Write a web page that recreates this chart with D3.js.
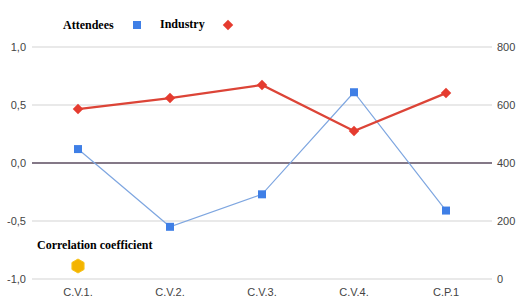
<!DOCTYPE html>
<html>
<head>
<meta charset="utf-8">
<script src="https://cdn.jsdelivr.net/npm/d3@7"></script>
<style>
  body { margin: 0; background: #fff; }
  svg { display: block; }
</style>
</head>
<body>
<svg id="chart"></svg>
<script>
const categories = ['C.V.1.', 'C.V.2.', 'C.V.3.', 'C.V.4.', 'C.P.1'];
const attendees = [0.12, -0.55, -0.27, 0.61, -0.41];   // left axis
const industry = [586, 624, 669, 510, 641];              // right axis
const leftTicks = [-1, -0.5, 0, 0.5, 1];
const rightTicks = [0, 200, 400, 600, 800];

const width = 528, height = 303;
const padding = { top: 47, bottom: 24, left: 32, right: 36 };

let svg = d3.select('#chart')
  .attr('width', width)
  .attr('height', height);

let x = d3.scaleBand()
  .domain(categories)
  .range([padding.left, width - padding.right]);

let yL = d3.scaleLinear()
  .domain([-1, 1])
  .range([height - padding.bottom, padding.top]);

let yR = d3.scaleLinear()
  .domain([0, 800])
  .range([height - padding.bottom, padding.top]);

const fmt = d => d3.format('.1f')(d).replace('.', ',').replace('−', '-');

// grid
svg.append('g')
  .selectAll('line')
  .data(leftTicks)
  .enter()
  .append('line')
  .attr('x1', padding.left)
  .attr('x2', width - padding.right)
  .attr('y1', d => yL(d))
  .attr('y2', d => yL(d))
  .attr('stroke', d => d === 0 ? '#5b4b5f' : '#d3d3d3')
  .attr('stroke-width', d => d === 0 ? 1.3 : 1);

// left axis
let left = svg.append('g')
  .attr('transform', `translate(${padding.left},0)`)
  .call(d3.axisLeft(yL).tickValues(leftTicks).tickFormat(fmt).tickSize(0).tickPadding(6));
left.select('.domain').remove();

// right axis
let right = svg.append('g')
  .attr('transform', `translate(${width - padding.right},0)`)
  .call(d3.axisRight(yR).tickValues(rightTicks).tickSize(0).tickPadding(5));
right.select('.domain').remove();

// bottom axis
let bottom = svg.append('g')
  .attr('transform', `translate(0,${height - padding.bottom})`)
  .call(d3.axisBottom(x).tickSize(0).tickPadding(9));
bottom.select('.domain').remove();

svg.selectAll('.tick text')
  .style('font-family', 'Liberation Sans, Arial, sans-serif')
  .style('font-size', '11px')
  .attr('fill', '#444');

const cx = d => x(d) + x.bandwidth() / 2;

// attendees line
svg.append('path')
  .datum(attendees)
  .attr('fill', 'none')
  .attr('stroke', '#7ea6e0')
  .attr('stroke-width', 1.2)
  .attr('d', d3.line().x((d, i) => cx(categories[i])).y(d => yL(d)));

// industry line
svg.append('path')
  .datum(industry)
  .attr('fill', 'none')
  .attr('stroke', '#dc4437')
  .attr('stroke-width', 2.2)
  .attr('d', d3.line().x((d, i) => cx(categories[i])).y(d => yR(d)));

// markers
svg.selectAll('.sq')
  .data(attendees)
  .enter()
  .append('rect')
  .attr('class', 'sq')
  .attr('x', (d, i) => cx(categories[i]) - 4)
  .attr('y', d => yL(d) - 4)
  .attr('width', 8)
  .attr('height', 8)
  .attr('fill', '#3f7fe6');

svg.selectAll('.dia')
  .data(industry)
  .enter()
  .append('path')
  .attr('class', 'dia')
  .attr('transform', (d, i) => `translate(${cx(categories[i])},${yR(d)})`)
  .attr('d', d3.symbol().type(d3.symbolDiamond2).size(70))
  .attr('fill', '#e53b2f');

// legend
let legend = svg.append('g')
  .style('font-family', 'Liberation Serif, Times New Roman, serif')
  .style('font-weight', 'bold')
  .style('font-size', '12px');

legend.append('text').attr('x', 63).attr('y', 29).text('Attendees');
legend.append('rect').attr('x', 133).attr('y', 21).attr('width', 8).attr('height', 8).attr('fill', '#3f7fe6');
legend.append('text').attr('x', 160).attr('y', 28).text('Industry');
legend.append('path')
  .attr('transform', 'translate(228,25)')
  .attr('d', d3.symbol().type(d3.symbolDiamond2).size(70))
  .attr('fill', '#e53b2f');

legend.append('text').attr('x', 37).attr('y', 249).text('Correlation coefficient');

// hexagon marker (pointy top)
let hex = d3.range(6).map(i => [Math.PI / 3 * i, 7]);
legend.append('path')
  .attr('transform', 'translate(78,266)')
  .attr('d', d3.lineRadial().angle(d => d[0]).radius(d => d[1]).curve(d3.curveLinearClosed)(hex))
  .attr('fill', '#f4b400')
  .attr('stroke', '#f7c31a')
  .attr('stroke-width', 1);
</script>
</body>
</html>
